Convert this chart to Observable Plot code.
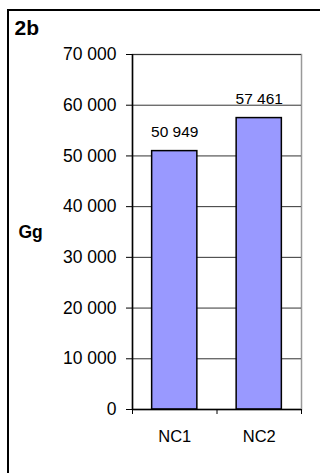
<!DOCTYPE html>
<html>
<head>
<meta charset="utf-8">
<script src="https://cdn.jsdelivr.net/npm/d3@7"></script>
<script src="https://cdn.jsdelivr.net/npm/@observablehq/plot@0.6"></script>
<style>
  html, body { margin: 0; padding: 0; background: #fff; }
  #wrap { position: relative; width: 320px; height: 473px; overflow: hidden; background: #fff; }
  #frame { position: absolute; left: 7px; top: 9px; width: 400px; height: 600px; border: 2px solid #000; box-sizing: border-box; }
  #chart { position: absolute; left: 0; top: 0; }
  svg { font-family: "Liberation Sans", Arial, sans-serif; }
</style>
</head>
<body>
<div id="wrap"><div id="frame"></div><div id="chart"></div></div>
<script>
const categories = ["NC1", "NC2"];
const values = [50949, 57461];
const yTicks = [0, 10000, 20000, 30000, 40000, 50000, 60000, 70000];
const panelLabel = "2b";
const unitLabel = "Gg";

const fmt = d => d3.format(",")(d).replace(/,/g, " ");
const data = categories.map((c, i) => ({cat: c, pos: i + 0.5, value: values[i]}));
const barW = 0.535;

const chart = Plot.plot({
  width: 320,
  height: 473,
  marginLeft: 132,
  marginRight: 19,
  marginTop: 54,
  marginBottom: 64,
  style: {fontFamily: "'Liberation Sans', Arial, sans-serif", background: "transparent"},
  x: {domain: [0, categories.length], axis: null},
  y: {domain: [0, 70000], axis: null},
  marks: [
    Plot.frame({stroke: "#999", strokeWidth: 1.5}),
    Plot.gridY(yTicks, {stroke: "#333", strokeOpacity: 1, strokeWidth: 1}),
    Plot.rectY(data, {x1: d => d.pos - barW / 2, x2: d => d.pos + barW / 2, y1: 0, y2: "value", fill: "#9999FF", stroke: "#000", strokeWidth: 1.5}),
    Plot.ruleX([0], {stroke: "#000", strokeWidth: 1.5}),
    Plot.ruleY([0], {stroke: "#000", strokeWidth: 1.5}),
    Plot.axisY({ticks: yTicks, tickFormat: fmt, tickSize: 6, tickPadding: 10, fontSize: 17.5, stroke: "#000", fill: "#000", label: null}),
    Plot.axisX({ticks: d3.range(categories.length + 1), tickFormat: () => "", tickSize: 5, stroke: "#000", label: null}),
    Plot.text(data, {x: "pos", y: "value", text: d => fmt(d.value), dy: -19, lineAnchor: "middle", fontSize: 15.5, fill: "#000"}),
    Plot.text(data, {x: "pos", text: "cat", frameAnchor: "bottom", dy: 27, lineAnchor: "middle", fontSize: 16.5, fill: "#000"}),
    Plot.text([unitLabel], {frameAnchor: "left", dx: -114, textAnchor: "start", lineAnchor: "middle", fontSize: 17.5, fontWeight: "bold", fill: "#000"}),
    Plot.text([panelLabel], {frameAnchor: "top-left", dx: -118, dy: -26, textAnchor: "start", lineAnchor: "middle", fontSize: 21, fontWeight: "bold", fill: "#000"})
  ]
});
document.getElementById("chart").appendChild(chart);
</script>
</body>
</html>
